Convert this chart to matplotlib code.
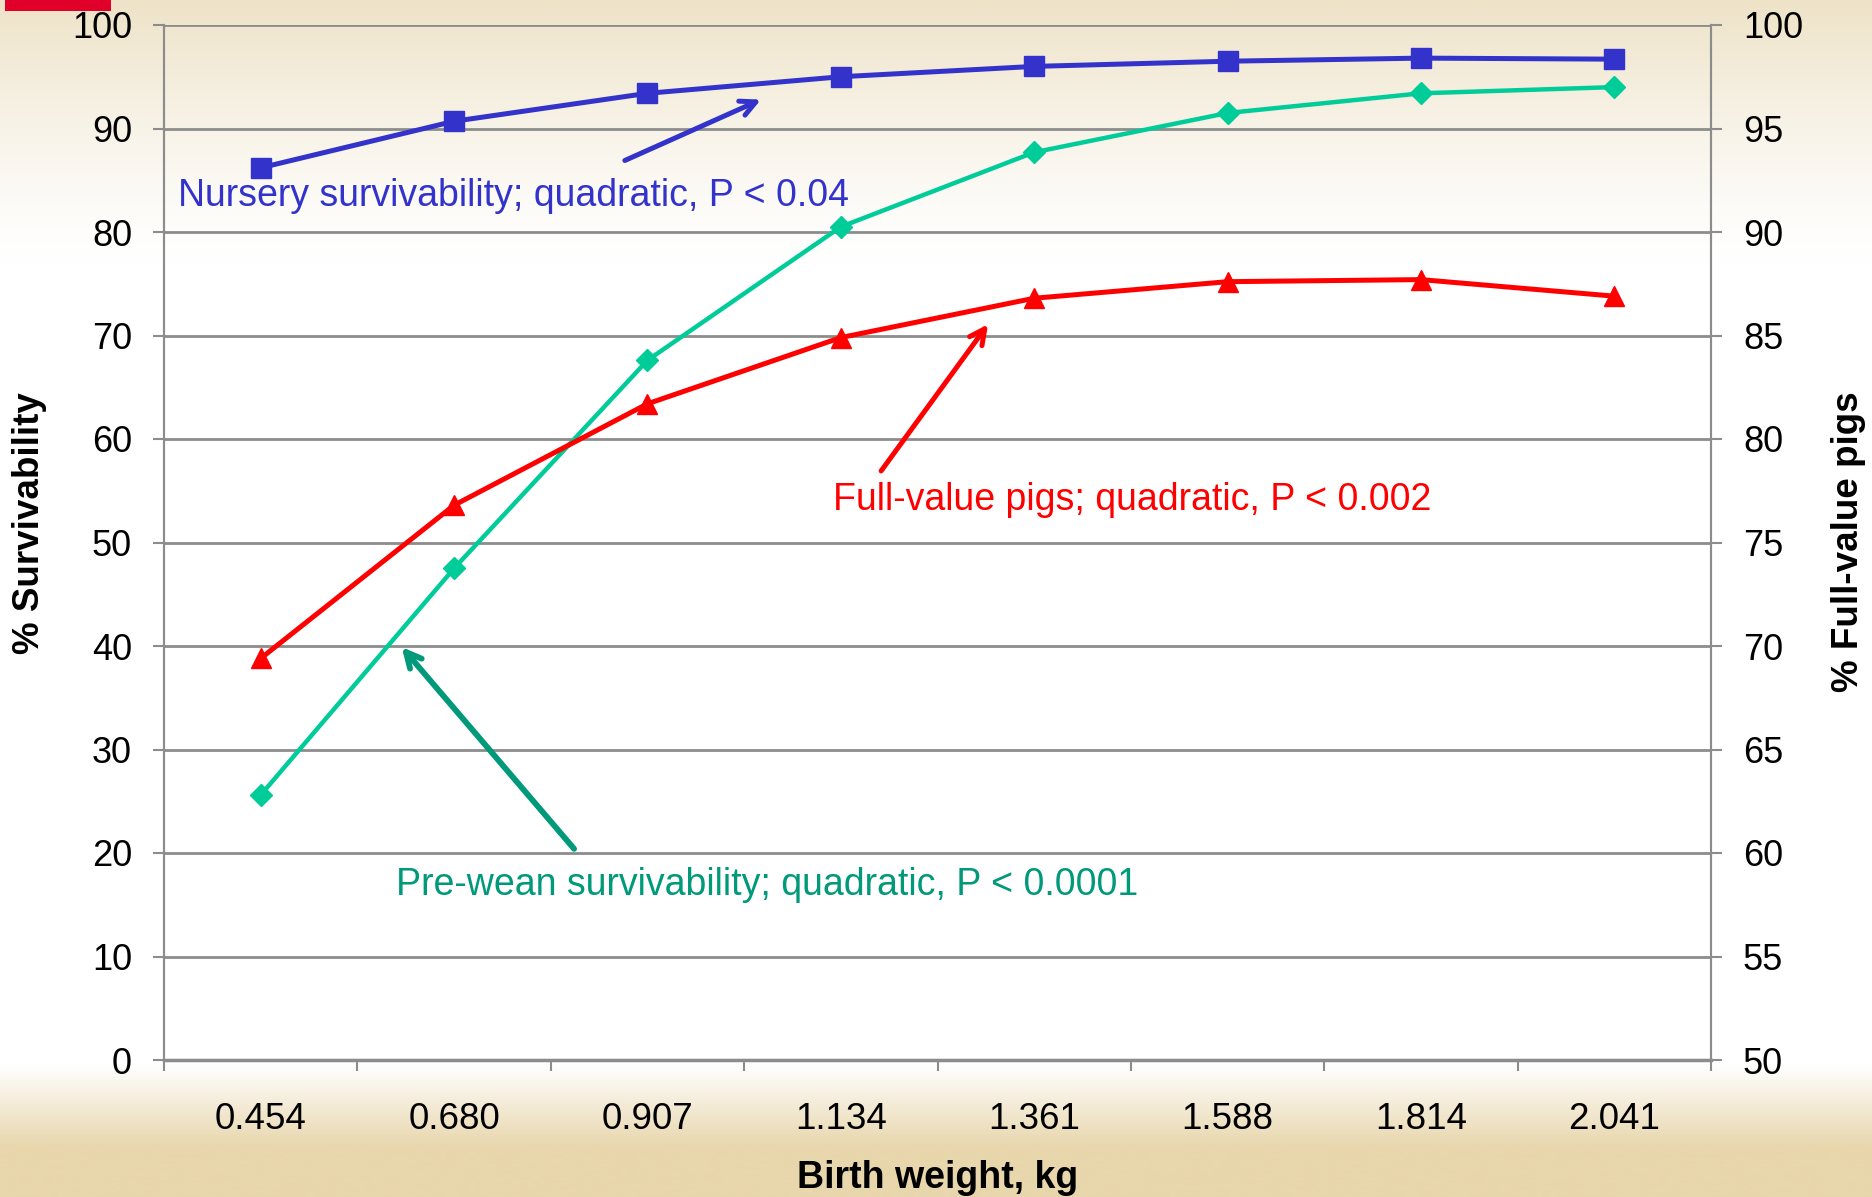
import numpy as np
import matplotlib
matplotlib.use("Agg")
import matplotlib.pyplot as plt

plt.rcParams['font.family'] = ['Liberation Sans', 'DejaVu Sans']

# ---- data ----
categories = ["0.454", "0.680", "0.907", "1.134", "1.361", "1.588", "1.814", "2.041"]
nursery = [86.2, 90.7, 93.4, 95.0, 96.0, 96.5, 96.8, 96.7]          # left axis
prewean = [25.6, 47.5, 67.6, 80.5, 87.7, 91.5, 93.4, 94.0]          # left axis
fullvalue = [69.4, 76.8, 81.7, 84.9, 86.8, 87.6, 87.7, 86.9]        # right axis
left_ticks = [0, 10, 20, 30, 40, 50, 60, 70, 80, 90, 100]
right_ticks = [50, 55, 60, 65, 70, 75, 80, 85, 90, 95, 100]

W, H = 1872, 1197
fig = plt.figure(figsize=(W / 100, H / 100), dpi=100)

# background gradient (parchment at top and bottom)
bg = fig.add_axes([0, 0, 1, 1], zorder=-10)
bg.set_axis_off()
yy = np.linspace(0, 1, 600)  # 0 = top
top = np.clip(1 - yy / 0.22, 0, 1) ** 1.3
bot = np.clip((yy - 0.89) / 0.07, 0, 1)
amt = np.maximum(top, bot)
beige_top = np.array([238, 227, 200]) / 255
beige_bot = np.array([232, 214, 172]) / 255
img = np.ones((600, 1, 3))
for i, a in enumerate(amt):
    c = beige_top if yy[i] < 0.5 else beige_bot
    img[i, 0, :] = (1 - a) * np.ones(3) + a * c
bg.imshow(img, aspect='auto', extent=[0, 1, 0, 1], transform=bg.transAxes)
bg.add_patch(plt.Rectangle((5 / W, 1 - 11 / H), 106 / W, 11 / H,
                           transform=bg.transAxes, color='#E0002A', lw=0))

ax = fig.add_axes([164 / W, 1 - 1060 / H, (1711 - 164) / W, (1060 - 25) / H])
ax.patch.set_alpha(0)
ax2 = ax.twinx()
ax2.patch.set_alpha(0)

x = np.arange(len(categories))
grid_c = '#8C8C8C'

ax.set_xlim(-0.5, len(categories) - 0.5)
ax.set_ylim(0, 100)
ax2.set_ylim(50, 100)
ax.set_yticks(left_ticks)
ax2.set_yticks(right_ticks)
for t in left_ticks[1:]:
    ax.axhline(t, color=grid_c, lw=2, zorder=0)

for a in (ax, ax2):
    a.spines['top'].set_visible(False)
    for s in ['left', 'right', 'bottom']:
        a.spines[s].set_color(grid_c)
        a.spines[s].set_linewidth(1.5)
ax.spines['bottom'].set_linewidth(2.5)

ax.tick_params(axis='y', length=8, width=1.5, color=grid_c, labelsize=26, pad=15)
ax2.tick_params(axis='y', length=8, width=1.5, color=grid_c, labelsize=26, pad=15)
ax.set_xticks(np.arange(-0.5, len(categories) + 0.5, 1))
ax.set_xticklabels([])
ax.tick_params(axis='x', which='major', length=8, width=1.5, color=grid_c)
ax.set_xticks(x, minor=True)
ax.set_xticklabels(categories, minor=True)
ax.tick_params(axis='x', which='minor', length=0, labelsize=26.5, pad=30)

ax.plot(x, nursery, color='#3333CC', lw=3.6, marker='s', markersize=15, zorder=5, clip_on=False)
ax.plot(x, prewean, color='#00CC99', lw=3.2, marker='D', markersize=11, zorder=4, clip_on=False)
ax2.plot(x, fullvalue, color='#FF0000', lw=3.6, marker='^', markersize=14, zorder=4, clip_on=False)

fig.text(30 / W, 1 - 523 / H, '% Survivability', fontsize=26.5, fontweight='bold',
         rotation=90, ha='center', va='center')
fig.text(1848 / W, 1 - 542 / H, '% Full-value pigs', fontsize=26.5, fontweight='bold',
         rotation=90, ha='center', va='center')
fig.text(938 / W, 1 - 1178 / H, 'Birth weight, kg', fontsize=27, fontweight='bold',
         ha='center', va='center')

# annotations
astyle = '->,head_length=1.1,head_width=0.55'
ax.annotate('', xy=(2.60, 92.9), xytext=(1.87, 86.8),
            arrowprops=dict(arrowstyle=astyle, color='#3333CC', lw=3.6))
ax.text(-0.43, 83.5, 'Nursery survivability; quadratic, P < 0.04', color='#3333CC',
        fontsize=27, va='center', ha='left')
ax.annotate('', xy=(3.77, 71.3), xytext=(3.20, 56.7),
            arrowprops=dict(arrowstyle=astyle, color='#FF0000', lw=3.6))
ax.text(2.96, 54.1, 'Full-value pigs; quadratic, P < 0.002', color='#FF0000',
        fontsize=27, va='center', ha='left')
ax.annotate('', xy=(0.72, 40.1), xytext=(1.63, 20.2),
            arrowprops=dict(arrowstyle=astyle, color='#00997A', lw=4.2))
ax.text(0.70, 16.9, 'Pre-wean survivability; quadratic, P < 0.0001', color='#00997A',
        fontsize=27, va='center', ha='left')

fig.savefig('out.png', dpi=100)
